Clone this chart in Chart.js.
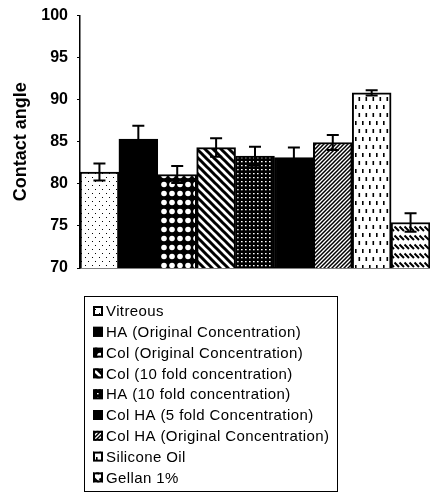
<!DOCTYPE html>
<html>
<head>
<meta charset="utf-8">
<script src="https://cdn.jsdelivr.net/npm/chart.js@4"></script>
<style>
  html, body { margin: 0; padding: 0; background: #fff; }
  #wrap { width: 430px; height: 497px; }
</style>
</head>
<body>
<div id="wrap"><canvas id="angleChart" width="430" height="497"></canvas></div>
<script>
const categories = [
    'Vitreous',
    'HA (Original Concentration)',
    'Col (Original Concentration)',
    'Col (10 fold concentration)',
    'HA (10 fold concentration)',
    'Col HA (5 fold Concentration)',
    'Col HA (Original Concentration)',
    'Silicone Oil',
    'Gellan 1%'
];
const contactAngle = [81.4, 85.3, 81.1, 84.3, 83.3, 83.1, 84.9, 90.8, 75.4];
const angleError = [1.0, 1.6, 1.0, 1.1, 1.1, 1.2, 0.9, 0.3, 1.1];
const yTicks = [70, 75, 80, 85, 90, 95, 100];

const FONT = "'Liberation Sans', Arial, sans-serif";

// small tiles used as bar fills
function makePattern(w, h, bg, draw) {
    const c = document.createElement('canvas');
    c.width = w;
    c.height = h;
    const g = c.getContext('2d');
    g.fillStyle = bg;
    g.fillRect(0, 0, w, h);
    draw(g, w, h);
    return g.createPattern(c, 'repeat');
}

const fills = [
    // sparse dots
    makePattern(7, 8, '#fff', g => { g.fillStyle = '#000'; g.fillRect(1, 1, 1, 1); g.fillRect(4, 5, 1, 1); }),
    '#000',
    // white blobs on black
    makePattern(8, 9, '#000', g => { g.fillStyle = '#fff'; g.beginPath(); g.arc(4, 4.5, 2.8, 0, Math.PI * 2); g.fill(); }),
    // thick back-diagonal stripes
    makePattern(8, 8, '#fff', g => {
        g.strokeStyle = '#000';
        g.lineWidth = 3;
        g.beginPath(); g.moveTo(-1, -1); g.lineTo(9, 9); g.moveTo(-5, 3); g.lineTo(5, 13); g.moveTo(3, -5); g.lineTo(13, 5); g.stroke();
    }),
    // small white dots on black
    makePattern(4, 4, '#000', g => { g.fillStyle = '#fff'; g.fillRect(1, 1, 1.6, 1.3); }),
    '#000',
    // fine forward-diagonal stripes
    makePattern(4, 4, '#fff', g => {
        g.strokeStyle = '#000';
        g.lineWidth = 1.5;
        g.beginPath(); g.moveTo(-1, 5); g.lineTo(5, -1); g.moveTo(-1, 1); g.lineTo(1, -1); g.moveTo(3, 5); g.lineTo(5, 3); g.stroke();
    }),
    // short vertical dashes
    makePattern(7, 16, '#fff', g => { g.fillStyle = '#000'; g.fillRect(1.5, 1, 1.6, 4); g.fillRect(5, 9, 1.6, 4); }),
    // rows of slanted strokes
    makePattern(5, 9, '#fff', g => {
        g.strokeStyle = '#000';
        g.lineWidth = 2;
        g.beginPath(); g.moveTo(-0.5, 1.5); g.lineTo(4, 6); g.moveTo(4.5, 1.5); g.lineTo(9, 6); g.stroke();
    })
];

// error bars drawn through the y scale
const errorBars = {
    id: 'errorBars',
    afterDatasetsDraw(chart) {
        const { ctx, scales: { y } } = chart;
        const meta = chart.getDatasetMeta(0);
        ctx.save();
        ctx.strokeStyle = '#000';
        ctx.lineWidth = 2;
        meta.data.forEach((bar, i) => {
            const v = contactAngle[i], e = angleError[i];
            const top = y.getPixelForValue(v + e);
            const bot = y.getPixelForValue(v - e);
            const x = bar.x;
            ctx.beginPath();
            ctx.moveTo(x, top); ctx.lineTo(x, bot);
            ctx.moveTo(x - 6, top); ctx.lineTo(x + 6, top);
            ctx.moveTo(x - 6, bot); ctx.lineTo(x + 6, bot);
            ctx.stroke();
        });
        ctx.restore();
    }
};

// boxed legend, one entry per line, under the plot
const boxLegend = {
    id: 'boxLegend',
    afterDraw(chart) {
        const { ctx } = chart;
        const left = 84, top = 296, w = 253, h = 195, rowH = 20.8;
        ctx.save();
        ctx.strokeStyle = '#000';
        ctx.lineWidth = 1;
        ctx.strokeRect(left + 0.5, top + 0.5, w, h);
        ctx.font = '15px ' + FONT;
        ctx.letterSpacing = '0.4px';
        ctx.textBaseline = 'middle';
        categories.forEach((name, i) => {
            const cy = top + 15 + i * rowH;
            ctx.fillStyle = fills[i];
            ctx.fillRect(left + 9, cy - 5, 10, 10);
            ctx.lineWidth = 2;
            ctx.strokeRect(left + 10, cy - 4, 8, 8);
            ctx.fillStyle = '#000';
            ctx.fillText(name, left + 22, cy + 1);
        });
        ctx.restore();
    }
};

new Chart(document.getElementById('angleChart'), {
    type: 'bar',
    data: {
        labels: categories,
        datasets: [{
            data: contactAngle,
            backgroundColor: fills,
            borderColor: '#000',
            borderWidth: 2,
            borderSkipped: 'bottom',
            barPercentage: 1,
            categoryPercentage: 1
        }]
    },
    options: {
        responsive: false,
        animation: false,
        layout: { padding: { top: 2, right: 0, bottom: 221, left: 0 } },
        plugins: { legend: { display: false }, tooltip: { enabled: false } },
        scales: {
            x: {
                ticks: { display: false },
                grid: { display: false },
                border: { color: '#000', width: 1.5 }
            },
            y: {
                min: 70,
                max: 100,
                afterBuildTicks: axis => { axis.ticks = yTicks.map(v => ({ value: v })); },
                afterFit: axis => { axis.width = 80; },
                ticks: { color: '#000', font: { family: FONT, size: 16, weight: 'bold', lineHeight: 0.8 }, padding: 9 },
                grid: { drawOnChartArea: false, drawTicks: true, tickLength: 3, color: '#000' },
                border: { color: '#000', width: 1.5 },
                title: {
                    display: true,
                    text: 'Contact angle',
                    color: '#000',
                    font: { family: FONT, size: 18, weight: 'bold' },
                    padding: { top: 10, bottom: 0 }
                }
            }
        }
    },
    plugins: [errorBars, boxLegend]
});
</script>
</body>
</html>
